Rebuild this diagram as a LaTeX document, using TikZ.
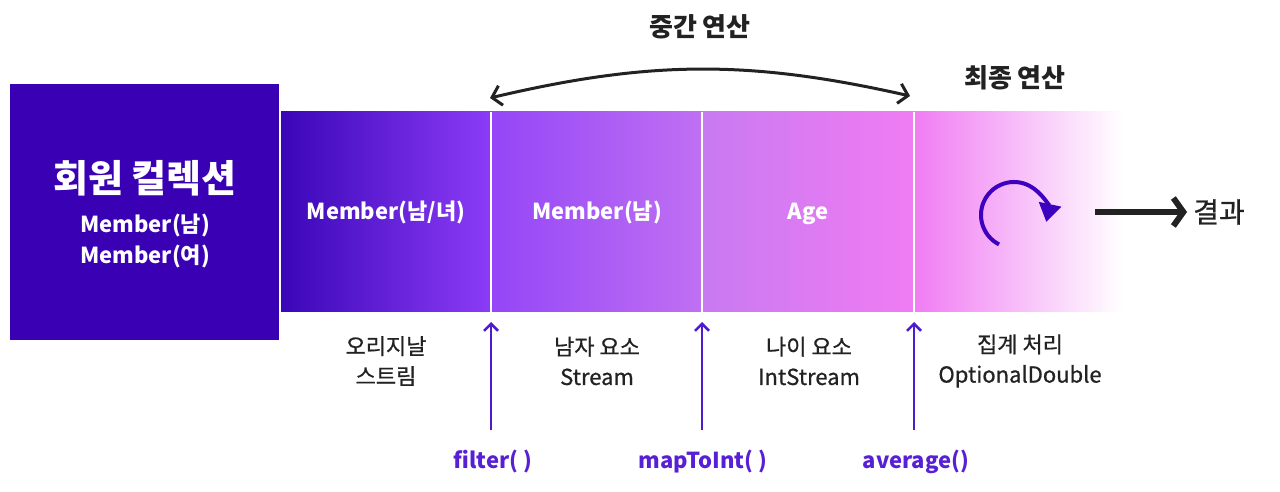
\documentclass[tikz,border=0pt]{standalone}
\usepackage{fontspec}
\setmainfont{Noto Sans CJK KR}
\newfontfamily\medfont{Noto Sans CJK KR}[FakeBold=0.8]
\usetikzlibrary{arrows.meta}
\definecolor{leftbox}{RGB}{58,0,180}
\definecolor{dark}{RGB}{34,34,34}
\definecolor{methodc}{RGB}{88,32,212}
\definecolor{upc}{RGB}{78,28,208}
\definecolor{refc}{RGB}{60,0,190}
\definecolor{g0}{RGB}{58,6,184}
\definecolor{g1}{RGB}{140,60,246}
\definecolor{g1b}{RGB}{148,70,247}
\definecolor{g2}{RGB}{192,112,242}
\definecolor{g2b}{RGB}{200,122,241}
\definecolor{g3}{RGB}{240,124,243}
\begin{document}
\begin{tikzpicture}[x=1pt,y=1pt,
  wtxt/.style={text=white, inner sep=1pt, font=\bfseries\fontsize{22}{26}\selectfont},
  titletxt/.style={text=white, inner sep=1pt, font=\bfseries\fontsize{38}{44}\selectfont},
  headtxt/.style={text=dark, inner sep=1pt, font=\bfseries\fontsize{26}{30}\selectfont},
  gtxt/.style={text=dark, inner sep=1pt, align=center, font=\medfont\fontsize{22}{30}\selectfont},
  optxt/.style={text=methodc, inner sep=1pt, font=\bfseries\fontsize{22}{26}\selectfont},
  divider/.style={white, line width=1.5pt},
  arcarrow/.style={draw=dark, line width=3pt, {Straight Barb[length=9pt,width=20pt]}-{Straight Barb[length=9pt,width=20pt]}},
  uparrow/.style={draw=upc, line width=2.5pt, -{Straight Barb[length=7pt,width=14pt]}},
  refresh/.style={draw=refc, line width=4pt, -{Triangle[length=18pt,width=22pt]}},
  resarrow/.style={draw=dark, line width=6pt, -{Straight Barb[length=10pt,width=28pt]}}
]
\useasboundingbox (0,0) rectangle (1280,492);
% collection box
\fill[leftbox] (10,152) rectangle (279,408);
\node[titletxt] (title) at (145,314) {회원 컬렉션};
\node[wtxt] (m1) at (145,267) {Member(남)};
\node[wtxt] (m2) at (145,236) {Member(여)};
% gradient band
\shade[left color=g0, right color=g1] (281,180) rectangle (491,380);
\shade[left color=g1b, right color=g2] (491,180) rectangle (702,380);
\shade[left color=g2b, right color=g3] (702,180) rectangle (914,380);
\shade[left color=g3, right color=white] (914,180) rectangle (1122,380);
\draw[divider] (491,180) -- (491,380);
\draw[divider] (702,180) -- (702,380);
\draw[divider] (914,180) -- (914,380);
\node[wtxt] (s1) at (386,280) {Member(남/녀)};
\node[wtxt] (s2) at (597,280) {Member(남)};
\node[wtxt] (s3) at (808,278) {Age};
% top arc
\node[headtxt] (mid) at (700,465) {중간 연산};
\node[headtxt] (fin) at (1015,414) {최종 연산};
\coordinate (a1) at (490,394);
\coordinate (a2) at (910,396);
\draw[arcarrow] (a1) to[bend left=13] (a2);
% refresh symbol
\coordinate (rc) at (1014,277);
\draw[refresh] ([shift={(243:33)}]rc) arc[start angle=243, end angle=-12, radius=33];
% result
\node[text=dark, inner sep=1pt, font=\medfont\fontsize{28}{32}\selectfont] (res) at (1219,280) {결과};
\coordinate (r1) at (1095,280);
\draw[resarrow] (r1) -- ([xshift=-5pt]res.west);
% bottom labels
\node[gtxt] (l1) at (386,131) {오리지날\\스트림};
\node[gtxt] (l2) at (597,131) {남자 요소\\Stream};
\node[gtxt] (l3) at (809,131) {나이 요소\\IntStream};
\node[gtxt] (l4) at (1020,131) {집계 처리\\OptionalDouble};
% method labels and up arrows
\node[optxt] (f1) at (493,30) {filter( )};
\node[optxt] (f2) at (703,30) {mapToInt( )};
\node[optxt] (f3) at (916,30) {average()};
\coordinate (u1) at (491,62);
\coordinate (u2) at (702,62);
\coordinate (u3) at (914,62);
\coordinate (b1) at (491,170);
\coordinate (b2) at (702,170);
\coordinate (b3) at (914,170);
\draw[uparrow] (u1) -- (b1);
\draw[uparrow] (u2) -- (b2);
\draw[uparrow] (u3) -- (b3);
\end{tikzpicture}
\end{document}
